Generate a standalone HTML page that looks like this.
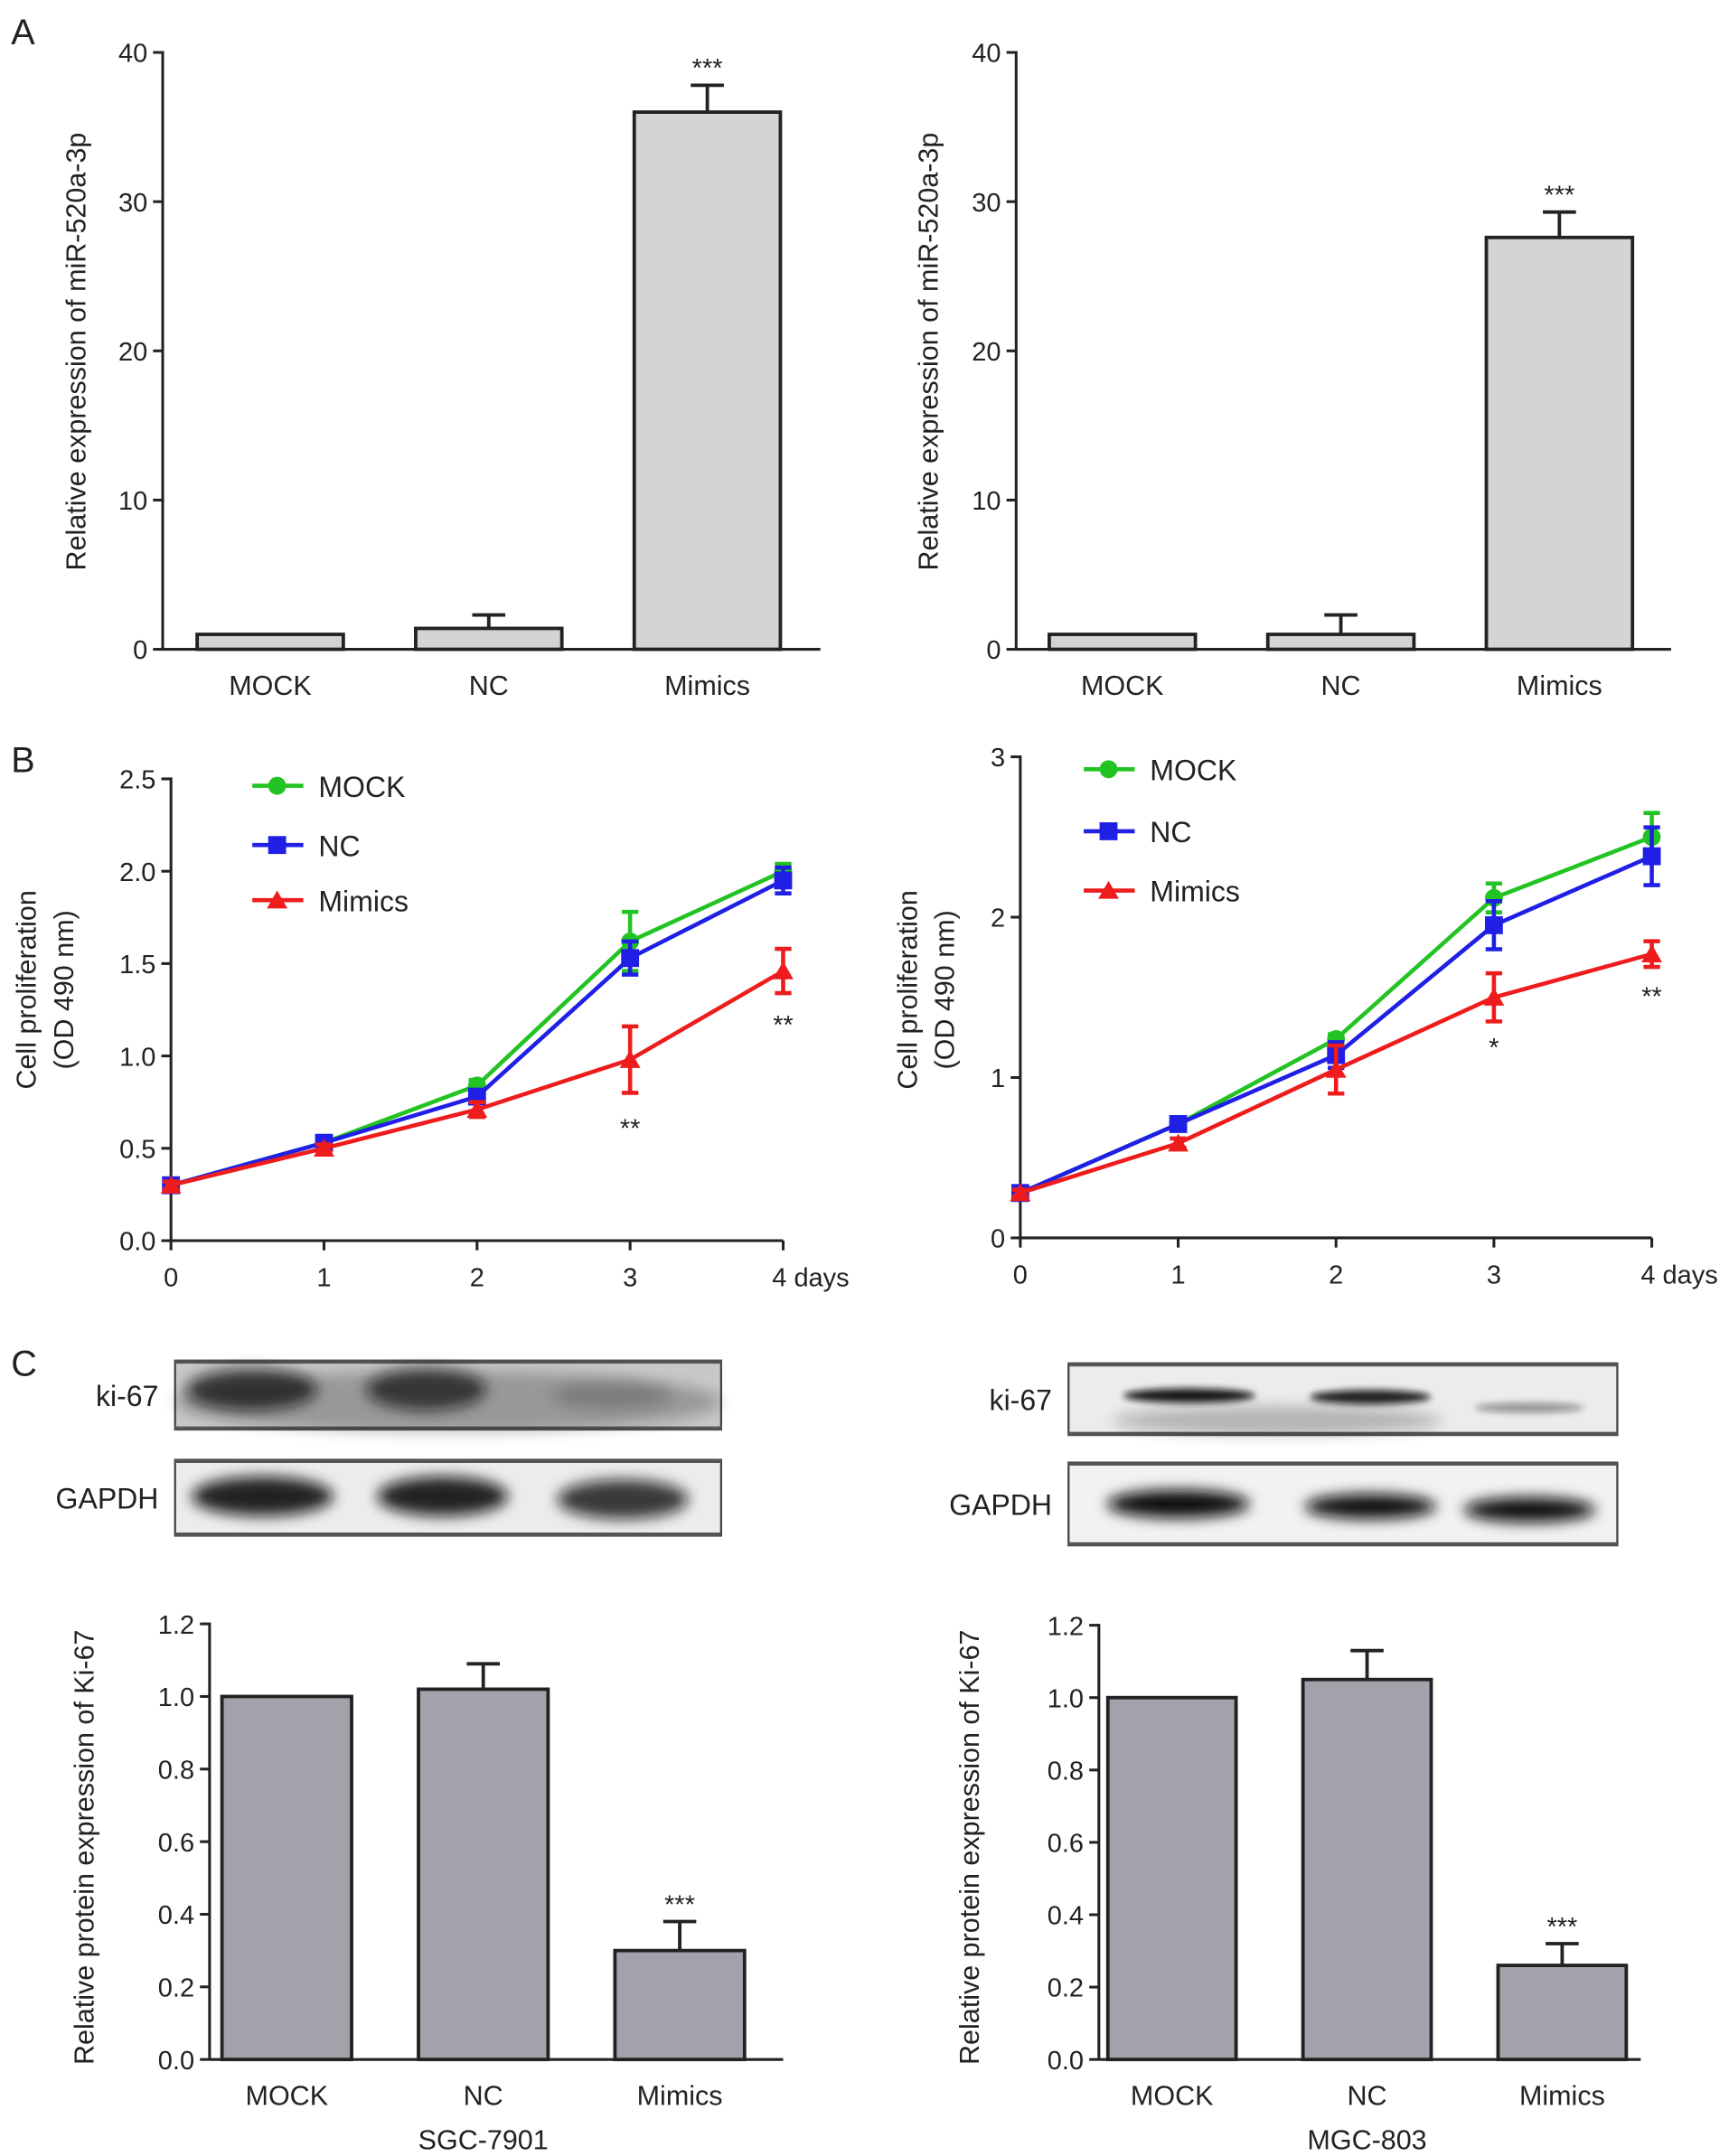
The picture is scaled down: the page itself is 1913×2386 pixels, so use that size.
<!DOCTYPE html>
<html><head><meta charset="utf-8"><style>
html,body{margin:0;padding:0;background:#fff}
svg{display:block}
text{font-family:"Liberation Sans",Arial,sans-serif;fill:#222}
</style></head><body>
<svg id="fig" width="1913" height="2386" viewBox="0 0 1254 1564" xmlns="http://www.w3.org/2000/svg">
<defs>
<filter id="blur" x="-30%" y="-80%" width="160%" height="260%"><feGaussianBlur stdDeviation="5"/></filter>
<filter id="blur2" x="-30%" y="-80%" width="160%" height="260%"><feGaussianBlur stdDeviation="2.5"/></filter>
</defs>
<text x="8" y="32" font-size="26">A</text>
<text x="8" y="560" font-size="26">B</text>
<text x="8" y="998" font-size="26">C</text>
<g id="root"></g>
</svg>
<script>
// Panel A data
const aCats = ["MOCK","NC","Mimics"];
const aLeftVals = [1.0, 1.4, 36.0];
const aLeftErr = [0, 0.9, 1.8];
const aRightVals = [1.0, 1.0, 27.6];
const aRightErr = [0, 1.3, 1.7];
const aTicks = [0,10,20,30,40];
// Panel B data
const bDays = [0,1,2,3,4];
const bLeftMock = [0.30,0.53,0.84,1.62,2.00];
const bLeftMockErr = [0.02,0.02,0.03,0.16,0.04];
const bLeftNC = [0.30,0.53,0.78,1.53,1.95];
const bLeftNCErr = [0.02,0.02,0.03,0.09,0.07];
const bLeftMim = [0.30,0.50,0.71,0.98,1.46];
const bLeftMimErr = [0.02,0.02,0.04,0.18,0.12];
const bRightMock = [0.28,0.71,1.24,2.12,2.50];
const bRightMockErr = [0.02,0.03,0.03,0.09,0.15];
const bRightNC = [0.28,0.71,1.14,1.95,2.38];
const bRightNCErr = [0.02,0.03,0.08,0.15,0.18];
const bRightMim = [0.28,0.59,1.05,1.50,1.77];
const bRightMimErr = [0.02,0.03,0.15,0.15,0.08];
const bLeftTicks = [0,0.5,1.0,1.5,2.0,2.5];
const bRightTicks = [0,1,2,3];
// Panel C data
const cLeftVals = [1.0, 1.02, 0.30];
const cLeftErr = [0, 0.07, 0.08];
const cRightVals = [1.0, 1.05, 0.26];
const cRightErr = [0, 0.08, 0.06];
const cTicks = [0,0.2,0.4,0.6,0.8,1.0,1.2];

const NS="http://www.w3.org/2000/svg";
const root=document.getElementById('root');
function mk(tag,attrs,parent){const e=document.createElementNS(NS,tag);for(const k in attrs)e.setAttribute(k,attrs[k]);(parent||root).appendChild(e);return e;}
function txt(x,y,s,size,anchor,name,parent,rot){const t=mk('text',{x:x,y:y,'font-size':size,'text-anchor':anchor||'middle'},parent);t.textContent=s;


if(rot)t.setAttribute('transform',`rotate(-90 ${x} ${y})`);return t;}

function barChart(o){
  const g=mk('g',{});
  
  
  const y=v=>o.y0-(v-0)/(o.ymax)*(o.y0-o.ytop);
  mk('line',{x1:o.x0,y1:o.ytop-1,x2:o.x0,y2:o.y0,stroke:'#222','stroke-width':2},g);
  mk('line',{x1:o.x0,y1:o.y0,x2:o.x1,y2:o.y0,stroke:'#222','stroke-width':2},g);
  o.ticks.forEach(t=>{mk('line',{x1:o.x0-7,x2:o.x0,y1:y(t),y2:y(t),stroke:'#222','stroke-width':2},g);
    txt(o.x0-11,y(t)+7,o.fmt(t),19,'end','y-tick-label',g);});
  o.vals.forEach((v,i)=>{
    const cx=o.c0+o.slot*i, w=o.bw;
    const r=mk('rect',{x:cx-w/2,y:y(v),width:w,height:o.y0-y(v),fill:o.fill,stroke:'#222','stroke-width':2.5},g);
    
    
    const e=o.err[i];
    if(e>0){mk('line',{x1:cx,x2:cx,y1:y(v),y2:y(v+e),stroke:'#222','stroke-width':2.5},g);
      mk('line',{x1:cx-12,x2:cx+12,y1:y(v+e),y2:y(v+e),stroke:'#222','stroke-width':2.5},g);}
    if(o.stars[i])txt(cx,y(v+e)-6,o.stars[i],19,'middle','significance-mark',g);
    txt(cx,o.y0+33,o.cats[i],20,'middle','x-tick-label',g);
  });
  txt(o.ylx,o.yly,o.ylabel,20,'middle','y-axis-title',g,true);
  if(o.sub)txt(o.c0+o.slot,o.y0+65,o.sub,20,'middle','cell-line-label',g);
}
barChart({name:'chart-a-left',x0:118,x1:595,y0:471,ytop:38,ymax:40,bw:106,c0:196,slot:158.5,vals:aLeftVals,err:aLeftErr,cats:aCats,ticks:aTicks,fmt:t=>String(t),fill:'#d4d4d4',stars:['','','***'],ylabel:'Relative expression of miR-520a-3p',ylx:62,yly:255});
barChart({name:'chart-a-right',x0:737,x1:1212,y0:471,ytop:38,ymax:40,bw:106,c0:814,slot:158.5,vals:aRightVals,err:aRightErr,cats:aCats,ticks:aTicks,fmt:t=>String(t),fill:'#d4d4d4',stars:['','','***'],ylabel:'Relative expression of miR-520a-3p',ylx:680,yly:255});
barChart({name:'chart-c-left',x0:152,x1:568,y0:1494,ytop:1178,ymax:1.2,bw:94,c0:208,slot:142.5,vals:cLeftVals,err:cLeftErr,cats:aCats,ticks:cTicks,fmt:t=>t.toFixed(1),fill:'#a2a2aa',stars:['','','***'],ylabel:'Relative protein expression of Ki-67',ylx:68,yly:1340,sub:'SGC-7901'});
barChart({name:'chart-c-right',x0:797,x1:1190,y0:1494,ytop:1179,ymax:1.2,bw:93,c0:850,slot:141.5,vals:cRightVals,err:cRightErr,cats:aCats,ticks:cTicks,fmt:t=>t.toFixed(1),fill:'#a2a2aa',stars:['','','***'],ylabel:'Relative protein expression of Ki-67',ylx:710,yly:1340,sub:'MGC-803'});

function lineChart(o){
  const g=mk('g',{});
  
  
  const y=v=>o.y0-v/o.ymax*(o.y0-o.ytop);
  const x=d=>o.x0+d/4*(o.x1-o.x0);
  mk('line',{x1:o.x0,y1:o.ytop-1,x2:o.x0,y2:o.y0,stroke:'#222','stroke-width':2},g);
  mk('line',{x1:o.x0,y1:o.y0,x2:o.x1,y2:o.y0,stroke:'#222','stroke-width':2},g);
  o.ticks.forEach(t=>{mk('line',{x1:o.x0-7,x2:o.x0,y1:y(t),y2:y(t),stroke:'#222','stroke-width':2},g);
    txt(o.x0-11,y(t)+7,o.fmt(t),19,'end','y-tick-label',g);});
  bDays.forEach(d=>{mk('line',{x1:x(d),x2:x(d),y1:o.y0,y2:o.y0+7,stroke:'#222','stroke-width':2},g);
    txt(d===4?x(d)-8:x(d),o.y0+33,d===4?'4 days':String(d),19,d===4?'start':'middle','x-tick-label',g);});
  const series=[{v:o.mock,e:o.mockErr,c:'#22c322',m:'circle',n:'MOCK'},{v:o.nc,e:o.ncErr,c:'#1f1fe6',m:'square',n:'NC'},{v:o.mim,e:o.mimErr,c:'#ee1c1c',m:'tri',n:'Mimics'}];
  series.forEach((s,si)=>{
    const pts=s.v.map((v,i)=>x(bDays[i])+','+y(v)).join(' ');
    const pl=mk('polyline',{points:pts,fill:'none',stroke:s.c,'stroke-width':3},g);
    
    
    s.v.forEach((v,i)=>{
      const cx=x(bDays[i]),cy=y(v),e=s.e[i];
      mk('line',{x1:cx,x2:cx,y1:y(v-e),y2:y(v+e),stroke:s.c,'stroke-width':3},g);
      mk('line',{x1:cx-6,x2:cx+6,y1:y(v-e),y2:y(v-e),stroke:s.c,'stroke-width':3},g);
      mk('line',{x1:cx-6,x2:cx+6,y1:y(v+e),y2:y(v+e),stroke:s.c,'stroke-width':3},g);
      marker(s.m,cx,cy,s.c,g);
    });
    const ly=o.legY[si];
    mk('line',{x1:o.legX,x2:o.legX+37,y1:ly,y2:ly,stroke:s.c,'stroke-width':3},g);
    marker(s.m,o.legX+18,ly,s.c,g);
    txt(o.legX+48,ly+8,s.n,21,'start','legend-entry-'+s.n.toLowerCase(),g);
  });
  o.stars.forEach(st=>txt(x(st[0]),y(st[1])+8,st[2],19,'middle','significance-mark',g));
  txt(o.ylx,o.yly,'Cell proliferation',20,'middle','y-axis-title',g,true);
  txt(o.ylx+27,o.yly,'(OD 490 nm)',20,'middle','y-axis-title-unit',g,true);
}
function marker(m,cx,cy,c,g){
  if(m==='circle')mk('circle',{cx:cx,cy:cy,r:6.5,fill:c},g);
  else if(m==='square')mk('rect',{x:cx-6.5,y:cy-6.5,width:13,height:13,fill:c},g);
  else mk('polygon',{points:`${cx},${cy-7} ${cx-7.5},${cy+6} ${cx+7.5},${cy+6}`,fill:c},g);
}
lineChart({name:'chart-b-left',x0:124,x1:568,y0:900,ytop:565,ymax:2.5,ticks:bLeftTicks,fmt:t=>t.toFixed(1),
  mock:bLeftMock,mockErr:bLeftMockErr,nc:bLeftNC,ncErr:bLeftNCErr,mim:bLeftMim,mimErr:bLeftMimErr,
  legX:183,legY:[570,613,653],stars:[[3,0.62,'**'],[4,1.18,'**']],ylx:26,yly:718});
lineChart({name:'chart-b-right',x0:740,x1:1198,y0:898,ytop:549,ymax:3,ticks:bRightTicks,fmt:t=>String(t),
  mock:bRightMock,mockErr:bRightMockErr,nc:bRightNC,ncErr:bRightNCErr,mim:bRightMim,mimErr:bRightMimErr,
  legX:786,legY:[558,603,646],stars:[[3,1.2,'*'],[4,1.52,'**']],ylx:665,yly:718});

function blot(name,x,y,w,h,bands,bg,label){
  const g=mk('g',{});
  
  
  mk('rect',{x:x,y:y,width:w,height:h,fill:bg,stroke:'#444','stroke-width':1.5},g);
  mk('line',{x1:x,x2:x+w,y1:y+1,y2:y+1,stroke:'#555','stroke-width':2.5},g);
  mk('line',{x1:x,x2:x+w,y1:y+h-1,y2:y+h-1,stroke:'#555','stroke-width':2.5},g);
  bands.forEach(b=>{mk('ellipse',{cx:x+b[0]*w,cy:y+b[1]*h,rx:b[2]*w,ry:b[3]*h,fill:'#111',opacity:b[4],filter:b[5]?'url(#blur2)':'url(#blur)'},g);});
  txt(x-12,y+h/2+8,label,21,'end','blot-label',g);
}
blot('blot-ki67-left',127,987,396,50,[[0.5,0.6,0.5,0.45,0.25],[0.14,0.42,0.12,0.3,0.75],[0.46,0.42,0.11,0.3,0.7],[0.8,0.5,0.11,0.2,0.2]],'#c8c8c8','ki-67');
blot('blot-gapdh-left',127,1059,396,55,[[0.16,0.48,0.13,0.26,0.9],[0.49,0.48,0.12,0.26,0.9],[0.82,0.52,0.12,0.26,0.8]],'#ececec','GAPDH');
blot('blot-ki67-right',775,989,398,52,[[0.22,0.45,0.12,0.1,0.95,1],[0.55,0.47,0.11,0.1,0.9,1],[0.84,0.62,0.1,0.07,0.4,1],[0.38,0.8,0.3,0.2,0.25]],'#ececec','ki-67');
blot('blot-gapdh-right',775,1061,398,60,[[0.2,0.5,0.13,0.17,1],[0.55,0.53,0.12,0.15,1],[0.84,0.57,0.12,0.15,1]],'#f2f2f2','GAPDH');
</script>
</body></html>
